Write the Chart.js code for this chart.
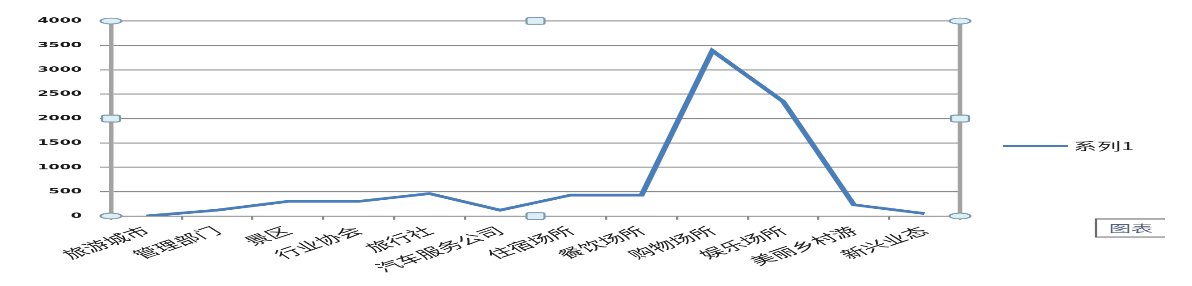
<!DOCTYPE html>
<html>
<head>
<meta charset="utf-8">
<script src="https://cdn.jsdelivr.net/npm/chart.js@4.4.1/dist/chart.umd.min.js"></script>
<style>
  html, body { margin: 0; padding: 0; background: #fff; overflow: hidden; }
  /* the reference is squashed vertically, so draw tall and squeeze */
  #wrap { width: 1192px; height: 630px; transform: scaleY(0.45397); transform-origin: 0 0; }
</style>
</head>
<body>
<div id="wrap"><canvas id="grafico" width="1192" height="630"></canvas></div>
<script>
const categories = ['旅游城市', '管理部门', '景区', '行业协会', '旅行社', '汽车服务公司',
  '住宿场所', '餐饮场所', '购物场所', '娱乐场所', '美丽乡村游', '新兴业态'];
const values = [0, 120, 300, 300, 460, 120, 430, 430, 3390, 2350, 230, 50];
const seriesName = '系列1';
const yMin = 0;
const yMax = 4000;
const yStep = 500;
const tipText = '图表';

window.onload = function() {
  const K = 630 / 286; // canvas px per picture px, vertically

  // selection handles, right border, legend and the little tooltip box
  const extras = {
    id: 'extras',
    afterDraw(chart) {
      const ctx = chart.ctx;
      const a = chart.chartArea;
      const midX = (a.left + a.right) / 2;
      const midY = (a.top + a.bottom) / 2;
      ctx.save();

      ctx.strokeStyle = '#a3a3a3';
      ctx.lineWidth = 4.5;
      ctx.beginPath();
      ctx.moveTo(a.right, a.top);
      ctx.lineTo(a.right, a.bottom);
      ctx.stroke();

      function circle(x, y) {
        ctx.beginPath();
        ctx.ellipse(x, y, 10.5, 6.5, 0, 0, 2 * Math.PI);
        ctx.fillStyle = '#ddeff6';
        ctx.fill();
        ctx.lineWidth = 2.2;
        ctx.strokeStyle = '#7e9aae';
        ctx.stroke();
      }
      function square(x, y) {
        ctx.beginPath();
        ctx.roundRect(x - 9, y - 7.5, 18, 15, 3);
        ctx.fillStyle = '#ddeff6';
        ctx.fill();
        ctx.lineWidth = 2.2;
        ctx.strokeStyle = '#7e9aae';
        ctx.stroke();
      }
      circle(a.left, a.top); circle(a.right, a.top);
      circle(a.left, a.bottom); circle(a.right, a.bottom);
      square(midX, a.top); square(midX, a.bottom);
      square(a.left, midY); square(a.right, midY);

      // legend
      const ds = chart.data.datasets[0];
      const ly = 146 * K;
      ctx.strokeStyle = ds.borderColor;
      ctx.lineWidth = 5;
      ctx.beginPath();
      ctx.moveTo(1003, ly);
      ctx.lineTo(1068, ly);
      ctx.stroke();
      ctx.fillStyle = '#222';
      ctx.font = '24px "Noto Sans CJK SC"';
      ctx.textBaseline = 'middle';
      ctx.textAlign = 'left';
      ctx.fillText(ds.label, 1073, ly);

      // tooltip box, cut off on the right
      const bt = 219 * K, bb = 237 * K;
      ctx.strokeStyle = '#6a6a6a';
      ctx.lineWidth = 2.2;
      ctx.beginPath();
      ctx.moveTo(1165, bt);
      ctx.lineTo(1096, bt);
      ctx.lineTo(1096, bb);
      ctx.lineTo(1165, bb);
      ctx.stroke();
      ctx.fillStyle = '#55627a';
      ctx.font = '22px "Noto Sans CJK SC"';
      ctx.fillText(tipText, 1109, (bt + bb) / 2);
      ctx.restore();
    }
  };

  const ctx = document.getElementById('grafico').getContext('2d');
  new Chart(ctx, {
    type: 'line',
    data: {
      labels: categories,
      datasets: [{
        label: seriesName,
        data: values,
        borderColor: '#4a7ebb',
        borderWidth: 6,
        pointRadius: 0,
        tension: 0,
        fill: false
      }]
    },
    options: {
      responsive: false,
      animation: false,
      devicePixelRatio: 1,
      layout: { padding: { top: 21 * K, right: 232, left: 0, bottom: 0 } },
      plugins: {
        legend: { display: false },
        tooltip: { enabled: false }
      },
      scales: {
        x: {
          offset: true,
          grid: {
            offset: true,
            drawOnChartArea: false,
            drawTicks: true,
            tickLength: 8,
            color: '#8a8a8a',
            lineWidth: 2.2
          },
          border: { color: '#8a8a8a', width: 2.2 },
          ticks: {
            autoSkip: false,
            minRotation: 36,
            maxRotation: 36,
            padding: 9,
            color: '#222',
            font: { family: '"Noto Sans CJK SC"', size: 25 }
          },
          afterFit(scale) { scale.height = 630 - 216 * K; }
        },
        y: {
          min: yMin,
          max: yMax,
          grid: {
            color: '#8a8a8a',
            lineWidth: 2.2,
            tickLength: 11
          },
          border: { color: '#a3a3a3', width: 4.5 },
          ticks: {
            stepSize: yStep,
            padding: 18,
            color: '#1a1a1a',
            font: { family: '"DejaVu Sans"', size: 16, weight: 'bold' },
            callback: v => String(v)
          },
          afterFit(scale) { scale.width = 111; }
        }
      }
    },
    plugins: [extras]
  });
};
</script>
</body>
</html>
